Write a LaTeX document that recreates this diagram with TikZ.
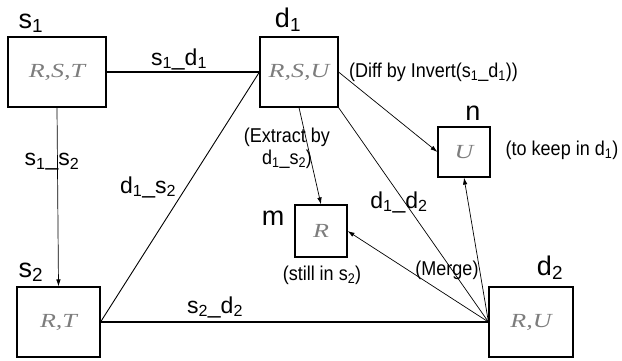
\documentclass[tikz,border=0pt]{standalone}
\usepackage{fontspec}
\setmainfont{Liberation Sans}
\newfontfamily\boxfont{Liberation Serif}
\usepackage{graphicx}
\usetikzlibrary{arrows.meta}
\definecolor{boxgray}{RGB}{125,125,125}
\newcommand{\wide}[1]{\scalebox{1.3}[1]{#1}}
\newcommand{\slim}[1]{\scalebox{0.9}[1]{#1}}
\tikzset{
  store/.style={draw, line width=1.1pt, inner sep=0pt, text=boxgray,
    font=\boxfont\itshape\fontsize{20}{20}\selectfont},
  sitename/.style={font=\fontsize{27}{27}\selectfont, anchor=base},
  edgelbl/.style={font=\fontsize{23}{23}\selectfont, inner sep=0pt},
  note/.style={font=\fontsize{20}{22}\selectfont, inner sep=0pt, align=center},
  flow/.style={->, >={Latex[length=7pt,width=4.5pt]}, line width=0.7pt}
}
\begin{document}
\begin{tikzpicture}[x=1pt,y=-1pt]
\useasboundingbox (0,0) rectangle (622,360);
% the five stores
\draw (57,72) node[store, minimum width=98pt, minimum height=70pt] (S1) {\wide{R,S,T}};
\draw (299,72) node[store, minimum width=78pt, minimum height=70pt] (D1) {\wide{R,S,U}};
\draw (58.5,322) node[store, minimum width=83pt, minimum height=70pt] (S2) {\wide{R,T}};
\draw (531,322) node[store, minimum width=84pt, minimum height=70pt] (D2) {\wide{R,U}};
\draw (464,152) node[store, minimum width=52pt, minimum height=50pt] (N) {\wide{U}};
\draw (321,231) node[store, minimum width=52pt, minimum height=52pt] (M) {\wide{R}};
% names over the stores
\node[sitename] (S1name) at (31,28) {s\textsubscript{1}};
\node[sitename] (D1name) at (288,27) {d\textsubscript{1}};
\node[sitename] (S2name) at (31,277) {s\textsubscript{2}};
\node[sitename] (D2name) at (550,275) {d\textsubscript{2}};
\node[sitename] (Nname) at (473,120) {n};
\node[sitename] (Mname) at (273,225) {m};
% links
\draw[line width=1.1pt] (S1) -- (D1);
\draw[line width=0.9pt] (S2.east) -- (D1.west);
\draw[line width=1.1pt] (S2.east) -- (D2.west);
\draw[line width=0.7pt] (D1.south east) -- (D2.west);
\draw[flow] (S1.south) -- (S2.north);
\draw[flow] (D1.east) -- (N.west);
\draw[flow] (D1.south) -- (M.north);
\draw[flow] (D2.west) -- (N.south);
\draw[flow] (D2.west) -- (M.east);
% link labels
\node[edgelbl] (l11) at (179,59) {s\textsubscript{1}\_d\textsubscript{1}};
\node[edgelbl] (l12) at (52,162) {s\textsubscript{1}\_s\textsubscript{2}};
\node[edgelbl] (l13) at (148,187) {d\textsubscript{1}\_s\textsubscript{2}};
\node[edgelbl] (l22) at (215,307) {s\textsubscript{2}\_d\textsubscript{2}};
\node[edgelbl] (l14) at (399,202) {d\textsubscript{1}\_d\textsubscript{2}};
% notes
\node[note, anchor=west] (diff) at (349,72) {\slim{(Diff by Invert(s\textsubscript{1}\_d\textsubscript{1}))}};
\node[note] (extract) at (287,148) {\slim{(Extract by}\\\slim{d\textsubscript{1}\_s\textsubscript{2})}};
\node[note] (merge) at (447,270) {\slim{(Merge)}};
\node[note] (still) at (322,275) {\slim{(still in s\textsubscript{2})}};
\node[note] (keep) at (562,150) {\slim{(to keep in d\textsubscript{1})}};
\end{tikzpicture}
\end{document}
